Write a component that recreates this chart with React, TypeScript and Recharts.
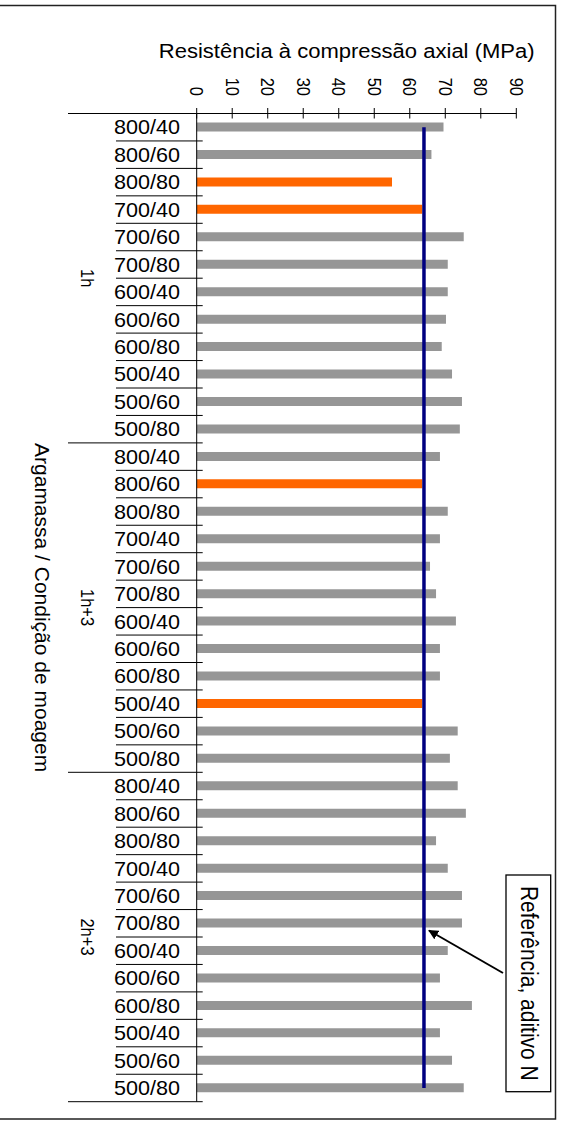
import { Bar, Cell, ComposedChart, Label, Line, XAxis, YAxis } from "recharts";

// condições de moagem (temperatura / tempo), repetidas em cada grupo
const conditions = ["800/40", "800/60", "800/80", "700/40", "700/60", "700/80", "600/40", "600/60", "600/80", "500/40", "500/60", "500/80"];
const groups = ["1h", "1h+3", "2h+3"];

// resistência à compressão axial (MPa)
const strength1h = [69.5, 66.1, 55.0, 63.5, 75.2, 70.7, 70.7, 70.2, 69.0, 71.9, 74.7, 74.1];
const strength1h3 = [68.5, 63.5, 70.7, 68.5, 65.7, 67.4, 73.0, 68.5, 68.5, 63.5, 73.5, 71.3];
const strength2h3 = [73.5, 75.8, 67.4, 70.7, 74.7, 74.7, 70.7, 68.5, 77.5, 68.5, 71.9, 75.2];

const REF_VALUE = 64; // referência, aditivo N
const xTicks = [0, 10, 20, 30, 40, 50, 60, 70, 80, 90];

const series = [strength1h, strength1h3, strength2h3];
const data = groups.flatMap((g, gi) =>
  conditions.map((c, ci) => ({ key: `${g}|${c}`, cond: c, group: g, value: series[gi][ci], refN: REF_VALUE }))
);

const W = 563;
const H = 1122;
const PLOT_LEFT = 196.7;
const PLOT_RIGHT = 516.3;
const PLOT_TOP = 113.5;
const PLOT_BOTTOM = 1101.7;
const BAND = (PLOT_BOTTOM - PLOT_TOP) / data.length;
const FONT = "'Liberation Sans', Arial, sans-serif";

const GRAY = "#969696";
const ORANGE = "#ff6600";
const NAVY = "#000080";

function XTick(props: any) {
  const { x, payload } = props;
  return (
    <g>
      <line x1={x} x2={x} y1={PLOT_TOP - 5.5} y2={PLOT_TOP + 5} stroke="#000" strokeWidth={1} />
      <text
        transform={`translate(${x},96) scale(1.15,1) rotate(90)`}
        textAnchor="end"
        dominantBaseline="central"
        fontFamily={FONT}
        fontSize={16.5}
        fill="#000"
      >
        {payload.value}
      </text>
    </g>
  );
}

function YTick(props: any) {
  const { y, payload, index } = props;
  const cond = String(payload.value).split("|")[1];
  const endOfGroup = (index + 1) % conditions.length === 0;
  const groupIdx = Math.floor(index / conditions.length);
  return (
    <g>
      <text
        transform={`translate(180,${y}) scale(1.08,1)`}
        textAnchor="end"
        dominantBaseline="central"
        fontFamily={FONT}
        fontSize={20}
        fill="#000"
      >
        {cond}
      </text>
      <line x1={endOfGroup ? 68 : 116} x2={PLOT_LEFT + 6} y1={y + BAND / 2} y2={y + BAND / 2} stroke="#000" strokeWidth={1} />
      {index === 0 ? (
        <line x1={68} x2={PLOT_LEFT} y1={y - BAND / 2} y2={y - BAND / 2} stroke="#000" strokeWidth={1} />
      ) : null}
      {index % conditions.length === conditions.length / 2 ? (
        <text
          transform={`translate(87,${y - BAND / 2}) scale(1.15,1) rotate(90)`}
          textAnchor="middle"
          dominantBaseline="central"
          fontFamily={FONT}
          fontSize={16.5}
          fill="#000"
        >
          {groups[groupIdx]}
        </text>
      ) : null}
    </g>
  );
}

const XTitle = () => (
  <text
    transform={`translate(346.7,58) scale(1.13,1)`}
    textAnchor="middle"
    fontFamily={FONT}
    fontSize={19.5}
    fill="#000"
  >
    Resistência à compressão axial (MPa)
  </text>
);

const YTitle = () => (
  <text
    transform={`translate(42,${(PLOT_TOP + PLOT_BOTTOM) / 2}) rotate(90)`}
    textAnchor="middle"
    dominantBaseline="central"
    fontFamily={FONT}
    fontSize={21}
    fill="#000"
  >
    Argamassa / Condição de moagem
  </text>
);

export default function App() {
  return (
    <div style={{ position: "absolute", left: 0, top: 0, width: W, height: H, background: "#fff" }}>
      <ComposedChart
        width={W}
        height={H}
        layout="vertical"
        data={data}
        margin={{ top: PLOT_TOP - 60, right: W - PLOT_RIGHT, bottom: H - PLOT_BOTTOM, left: PLOT_LEFT - 130 }}
      >
        <XAxis
          type="number"
          orientation="top"
          domain={[0, 90]}
          ticks={xTicks}
          interval={0}
          height={60}
          axisLine={{ stroke: "#000" }}
          tickLine={false}
          tick={XTick}
        >
          <Label content={XTitle} />
        </XAxis>
        <YAxis
          type="category"
          dataKey="key"
          width={130}
          interval={0}
          axisLine={{ stroke: "#000" }}
          tickLine={false}
          tick={YTick}
        >
          <Label content={YTitle} />
        </YAxis>
        <Bar dataKey="value" barSize={9} isAnimationActive={false}>
          {data.map((d) => (
            <Cell key={d.key} fill={d.value < REF_VALUE ? ORANGE : GRAY} />
          ))}
        </Bar>
        <Line type="linear" dataKey="refN" stroke={NAVY} strokeWidth={3.5} dot={false} isAnimationActive={false} />
      </ComposedChart>
      <svg width={W} height={H} style={{ position: "absolute", left: 0, top: 0, pointerEvents: "none" }}>
        <defs>
          <marker id="arrowhead" viewBox="0 0 10 10" refX="9" refY="5" markerWidth="5" markerHeight="5" orient="auto">
            <path d="M0,0 L10,5 L0,10 z" fill="#000" />
          </marker>
        </defs>
        {/* moldura */}
        <rect x={-2} y={5.5} width={557.5} height={1113.5} fill="none" stroke="#222" strokeWidth={1.5} />
        {/* anotação */}
        <line x1={503} y1={973} x2={429} y2={930.5} stroke="#000" strokeWidth={2} markerEnd="url(#arrowhead)" />
        <rect x={506} y={875} width={44.7} height={216.7} fill="#fff" stroke="#000" strokeWidth={1.3} />
        <text
          transform={`translate(528.5,983.3) scale(1.1,1) rotate(90)`}
          textAnchor="middle"
          dominantBaseline="central"
          fontFamily={FONT}
          fontSize={21}
          fill="#000"
        >
          Referência, aditivo N
        </text>
      </svg>
    </div>
  );
}
